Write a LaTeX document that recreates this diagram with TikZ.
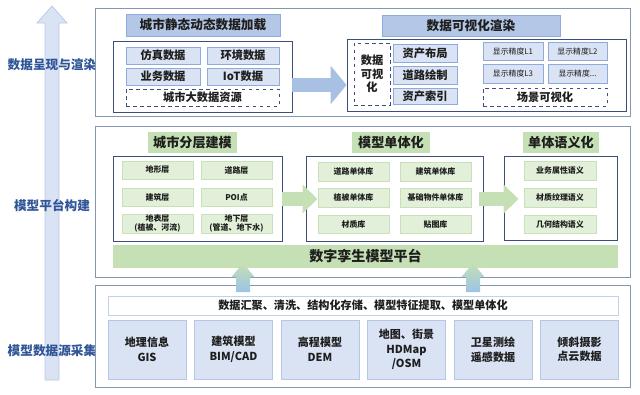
\documentclass[tikz,border=0pt]{standalone}
\usepackage{fontspec}
\setmainfont{Noto Sans CJK SC}
\usepackage{xcolor}
\usetikzlibrary{arrows.meta,positioning,calc}
\definecolor{framec}{RGB}{132,151,176}
\definecolor{innerc}{RGB}{62,78,122}
\definecolor{lblue}{RGB}{218,227,243}
\definecolor{tblue}{RGB}{180,199,231}
\definecolor{bborder}{RGB}{143,170,220}
\definecolor{arrowblue}{RGB}{168,192,228}
\definecolor{labelblue}{RGB}{47,85,151}
\definecolor{gtitlec}{RGB}{197,224,180}
\definecolor{gitemc}{RGB}{226,240,217}
\definecolor{gborder}{RGB}{200,225,185}
\definecolor{upblue}{RGB}{157,195,230}
\definecolor{txt}{RGB}{30,30,30}

\begin{document}
\begin{tikzpicture}[
  x=0.03cm,y=-0.03cm,
  span/.style n args={4}{minimum width={((#3)-(#1))*0.03cm},minimum height={((#4)-(#2))*0.03cm},
    at={({((#1)+(#3))/2},{((#2)+(#4))/2})}},
  panel/.style={draw=framec,line width=.8pt,inner sep=0pt},
  inbox/.style={draw=innerc,line width=.8pt,inner sep=0pt},
  sidelabel/.style={text=labelblue,font=\bfseries\fontsize{10.8}{13}\selectfont},
  btitle/.style={fill=tblue,draw=bborder,line width=.5pt,inner sep=0pt,text=txt,font=\bfseries\fontsize{10.8}{13}\selectfont},
  bitem/.style={fill=lblue,draw=bborder,line width=.6pt,inner sep=0pt,text=txt,font=\bfseries\fontsize{9.6}{11}\selectfont},
  bsmall/.style={bitem,font=\fontsize{6.7}{8}\selectfont},
  dbox/.style={draw=innerc,dashed,line width=.6pt,inner sep=0pt,align=center,text=txt,font=\bfseries\fontsize{9.6}{11}\selectfont},
  gtitle/.style={fill=gtitlec,inner sep=0pt,text=txt,font=\bfseries\fontsize{11.2}{13}\selectfont},
  gitem/.style={fill=gitemc,draw=gborder,line width=.5pt,inner sep=0pt,align=center,text=txt,font=\bfseries\fontsize{6.8}{8}\selectfont},
  platform/.style={fill=gtitlec,inner sep=0pt,text=txt,font=\bfseries\fontsize{12}{14}\selectfont},
  procbar/.style={fill=white,draw=lblue!70!bborder,line width=.5pt,inner sep=0pt,text=txt,font=\bfseries\fontsize{9.5}{11}\selectfont},
  srcbox/.style={fill=lblue,draw=tblue,line width=.6pt,inner sep=0pt,align=center,text=txt,font=\bfseries\fontsize{9.4}{12.5}\selectfont},
  bluearr/.style={line width=0.42cm,draw=arrowblue,-{Triangle[length=0.48cm,width=1.14cm]}},
  greenarr/.style={line width=0.42cm,draw=gtitlec,-{Triangle[length=0.45cm,width=0.84cm]}},
  sidearrow/.style={fill=lblue,draw=tblue,line width=.6pt},
  uparrow/.style={top color=gtitlec,bottom color=upblue,draw=none}
]
\useasboundingbox (0,0) rectangle (640,395);

% left axis arrow
\filldraw[sidearrow] (45,380) -- (45,23) -- (37,23) -- (52,6) -- (67,23) -- (59,23) -- (59,380) -- cycle;
\node[sidelabel] (lblTop) at (52,65) {数据呈现与渲染};
\node[sidelabel] (lblMid) at (52,206) {模型平台构建};
\node[sidelabel] (lblBot) at (52,351) {模型数据源采集};

% three panels
\node[panel,span={95}{8}{630}{116}] (pTop) {};
\node[panel,span={95}{126}{630}{277}] (pMid) {};
\node[panel,span={95}{285}{630}{387}] (pBot) {};

% top: data loading
\node[btitle,span={126}{14}{280}{36}] (tLoad) {城市静态动态数据加载};
\node[inbox,span={113}{41}{292}{112}] (srcIn) {};
\foreach \xa/\ya/\xb/\yb/\n/\lab in {126/47/200/64/dSim/仿真数据,207/47/279/64/dEnv/环境数据,
    126/68/200/85/dBiz/业务数据,207/68/279/85/dIot/IoT数据}{
  \node[bitem,span={\xa}{\ya}{\xb}{\yb}] (\n) {\lab};
}
\node[dbox,span={126}{89}{279}{106}] (dBig) {城市大数据资源};

% top: visual rendering
\node[btitle,span={382}{15}{560}{36}] (tVis) {数据可视化渲染};
\node[inbox,span={347}{39}{626}{111}] (visIn) {};
\node[dbox,span={354}{43}{390}{105},font=\bfseries\fontsize{9.6}{11.5}\selectfont] (vData) {数据\\可视\\化};
\foreach \ya/\yb/\n/\lab in {44/62/vLay/资产布局,66/84/vRoad/道路绘制,88/104/vIdx/资产索引}{
  \node[bitem,span={393}{\ya}{457}{\yb}] (\n) {\lab};
}
\foreach \xa/\ya/\xb/\yb/\n/\lab in {483/42/543/60/lod1/显示精度L1,548/42/607/60/lod2/显示精度L2,
    483/64/543/83/lod3/显示精度L3}{
  \node[bsmall,span={\xa}{\ya}{\xb}{\yb}] (\n) {\lab};
}
\node[bsmall,span={548}{64}{607}{83}] (lod4) {显示精度...};
\node[dbox,span={483}{88}{607}{106}] (vScene) {场景可视化};

\draw[bluearr] (srcIn.east |- 0,85) -- (visIn.west |- 0,85);

% middle: model platform
\node[gtitle,span={148}{132}{237}{153}] (tLayer) {城市分层建模};
\node[gtitle,span={352}{132}{430}{153}] (tSingle) {模型单体化};
\node[gtitle,span={523}{132}{599}{153}] (tSem) {单体语义化};

\node[inbox,span={113}{156}{282}{241}] (layIn) {};
\node[inbox,span={306}{156}{483}{241}] (sglIn) {};
\node[inbox,span={504}{156}{617}{240}] (semIn) {};

\foreach \xa/\ya/\xb/\yb/\n/\lab in {122/161/193/179/lTer/地形层,201/161/272/179/lRoad/道路层,
    122/188/193/206/lBld/建筑层,201/188/272/206/lPoi/POI点,
    122/214/193/233/lSurf/{地表层\\(植被、河流)},201/214/272/233/lUnd/{地下层\\(管道、地下水)}}{
  \node[gitem,span={\xa}{\ya}{\xb}{\yb}] (\n) {\lab};
}
\foreach \xa/\ya/\xb/\yb/\n/\lab in {318/162/389/181/sRoad/道路单体库,400/162/471/181/sBld/建筑单体库,
    318/188/389/207/sVeg/植被单体库,400/188/471/207/sObj/基础物件单体库,
    318/215/389/233/sMat/材质库,400/215/471/233/sTex/贴图库}{
  \node[gitem,span={\xa}{\ya}{\xb}{\yb}] (\n) {\lab};
}
\foreach \ya/\yb/\n/\lab in {161/180/eBiz/业务属性语义,188/207/eMat/材质纹理语义,215/233/eGeo/几何结构语义}{
  \node[gitem,span={524}{\ya}{596}{\yb}] (\n) {\lab};
}

\draw[greenarr] (layIn.east |- 0,199) -- ([xshift=12*0.03cm]sglIn.west |- 0,199);
\draw[greenarr] ([xshift=-4*0.03cm]sglIn.east |- 0,199) -- ([xshift=15*0.03cm]semIn.west |- 0,199);

\node[platform,span={113}{245}{618}{268}] (twin) {数字孪生模型平台};

% bottom: data sources
\node[procbar,span={108}{296}{618}{315}] (proc) {数据汇聚、清洗、结构化存储、模型特征提取、模型单体化};
\foreach \lab [count=\i from 0] in {{地理信息\\GIS},{建筑模型\\BIM/CAD},{高程模型\\DEM},
    {地图、街景\\HDMap\\/OSM},{卫星测绘\\遥感数据},{倾斜摄影\\点云数据}}{
  \node[srcbox,span={108+86.5*\i}{320}{186+86.5*\i}{379}] (src\i) {\lab};
}

% up arrows into the platform
\foreach \x in {243,473}{
  \shade[uparrow] (\x-7,292) -- (\x-7,277) -- (\x-11.5,277) -- (\x,263) -- (\x+11.5,277) -- (\x+7,277) -- (\x+7,292) -- cycle;
}
\end{tikzpicture}
\end{document}
